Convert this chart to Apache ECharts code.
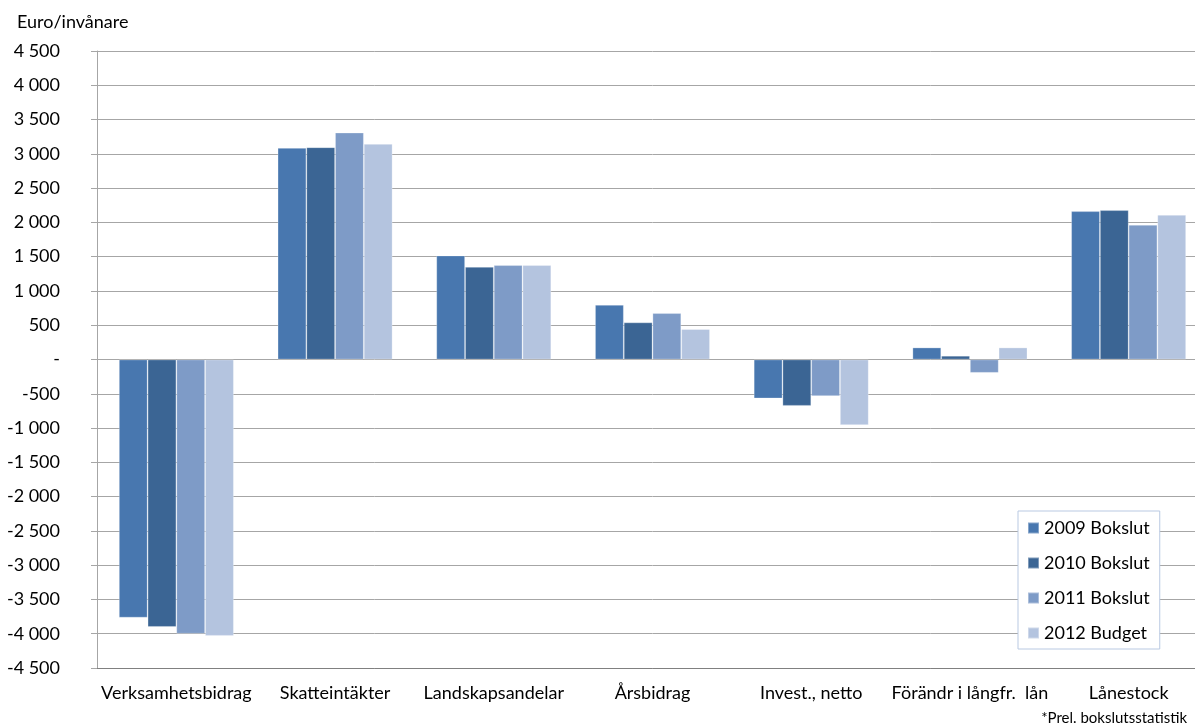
<!DOCTYPE html>
<html>
<head>
<meta charset="utf-8">
<script src="https://cdn.jsdelivr.net/npm/echarts@6/dist/echarts.min.js"></script>
<style>
html,body{margin:0;padding:0;background:#fff;overflow:hidden;width:1195px;height:728px;}
#c{width:1208px;height:728px;}
</style>
</head>
<body>
<div id="c"></div>
<script>
const categories = ['Verksamhetsbidrag', 'Skatteintäkter', 'Landskapsandelar', 'Årsbidrag', 'Invest., netto', 'Förändr i långfr.  lån', 'Lånestock'];
const seriesNames = ['2009 Bokslut', '2010 Bokslut', '2011 Bokslut', '2012 Budget'];
const values2009 = [-3765, 3086, 1517, 797, -568, 175, 2163];
const values2010 = [-3900, 3096, 1351, 541, -675, 54, 2178];
const values2011 = [-4000, 3310, 1376, 676, -533, -194, 1964];
const values2012 = [-4030, 3144, 1376, 443, -956, 175, 2110];
const colors = ['#4877AF', '#3B6594', '#7E9BC7', '#B4C4DF'];

const FONT = 'Lato, "Open Sans", sans-serif';
function fmt(v) {
  if (v === 0) return '-';
  const a = Math.abs(v);
  let s = a >= 1000 ? Math.floor(a / 1000) + ' ' + String(a % 1000).padStart(3, '0') : String(a);
  return (v < 0 ? '-' : '') + s;
}

const chart = echarts.init(document.getElementById('c'), null, {renderer: 'canvas'});
const allValues = [values2009, values2010, values2011, values2012];
chart.setOption({
  animation: false,
  color: colors,
  textStyle: {fontFamily: FONT},
  grid: {left: 97, right: 0, top: 51, bottom: 60, containLabel: false, outerBoundsMode: 'none'},
  title: [
    {text: 'Euro/invånare', left: 12, top: 8, textStyle: {fontSize: 18, fontWeight: 'normal', color: '#000', fontFamily: FONT}},
    {text: '*Prel. bokslutsstatistik', right: 16, top: 706, textStyle: {fontSize: 15, fontWeight: 'normal', color: '#000', fontFamily: FONT}}
  ],
  legend: {
    orient: 'vertical',
    left: 1018, top: 511,
    width: 140,
    padding: [8, 10, 7, 9],
    itemGap: 17,
    itemWidth: 11, itemHeight: 11,
    icon: 'rect',
    backgroundColor: '#fff',
    borderColor: '#B9C9E2',
    borderWidth: 1,
    textStyle: {fontSize: 18, color: '#000', fontFamily: FONT, padding: [0, 6, 0, 0]},
    data: seriesNames
  },
  xAxis: {
    type: 'category',
    data: categories,
    position: 'bottom',
    axisLine: {onZero: false, lineStyle: {color: '#808080', width: 1}},
    axisTick: {show: false},
    axisLabel: {fontSize: 18, color: '#000', margin: 16, interval: 0, fontFamily: FONT},
    splitLine: {show: false}
  },
  yAxis: {
    type: 'value',
    min: -4500, max: 4500, interval: 500,
    axisLine: {show: true, lineStyle: {color: '#A6A6A6'}},
    axisTick: {show: true, length: 6, lineStyle: {color: '#A6A6A6'}},
    axisLabel: {fontSize: 18, color: '#000', margin: 37, formatter: fmt, fontFamily: FONT},
    splitLine: {show: true, lineStyle: {color: '#A6A6A6', width: 1}}
  },
  series: seriesNames.map((n, i) => ({
    name: n,
    type: 'bar',
    data: allValues[i],
    barGap: '0%',
    barCategoryGap: '27.6%',
    itemStyle: {color: colors[i], borderColor: 'rgba(255,255,255,0.35)', borderWidth: 0.8}
  }))
});
</script>
</body>
</html>
